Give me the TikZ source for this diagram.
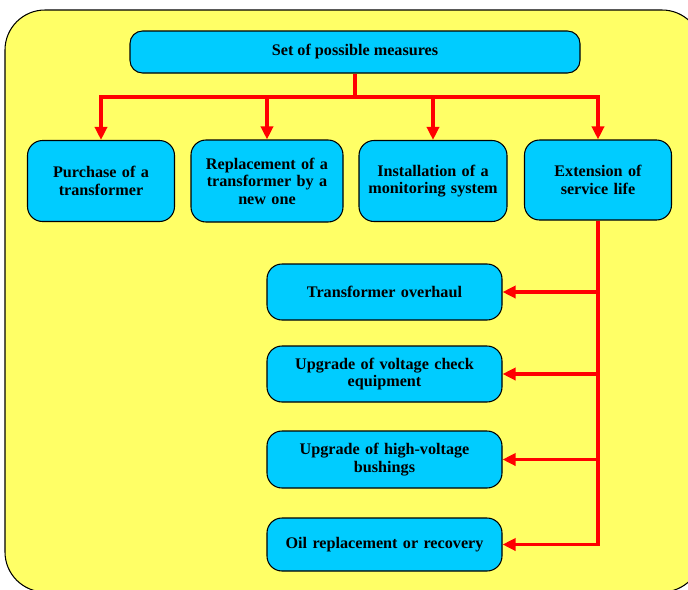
\documentclass[tikz,border=0pt]{standalone}
\usepackage{fontspec}
\setmainfont{Liberation Serif}
\usetikzlibrary{arrows.meta,calc}
\definecolor{panelyellow}{HTML}{FFFF66}
\definecolor{boxblue}{HTML}{00CCFF}
\definecolor{linkred}{HTML}{FF0000}
\tikzset{
    box/.style={draw, fill=boxblue, line width=0.6pt, rounded corners=0.3cm,
                inner sep=3pt, align=center,
                font=\bfseries\fontsize{9.2}{10}\selectfont},
    measure/.style={box, minimum width=2.94cm, minimum height=1.62cm, text width=2.7cm},
    action/.style={box, minimum width=4.7cm, minimum height=1.12cm, text width=4.4cm},
    link/.style={draw=linkred, line width=2.2pt},
    flow/.style={link, -{Triangle[length=0.26cm, width=0.24cm]}},
}
\begin{document}
\begin{tikzpicture}
    \path[use as bounding box] (0,0) rectangle (13.76,-11.8);
    \clip (0,0) rectangle (13.76,-11.8);
    \draw[fill=panelyellow, line width=0.6pt, rounded corners=0.8cm]
        (0.1,-0.2) rectangle (14.04,-11.84);

    \node[box, minimum width=9.0cm, minimum height=0.84cm, rounded corners=0.25cm] (set) at (7.1,-1.04) {Set of possible measures};

    \node[measure] (purchase) at (2.02,-3.62) {Purchase of a\\transformer};
    \node[measure, minimum width=3.04cm, minimum height=1.64cm] (replace) at (5.34,-3.62) {Replacement of a\\transformer by a\\new one};
    \node[measure, minimum width=2.96cm] (monitor) at (8.66,-3.62) {Installation of a\\monitoring system};
    \node[measure, minimum height=1.6cm] (extend) at (11.96,-3.6) {Extension of\\service life\\[0.5em]};

    \coordinate (bus) at (7.1,-1.94);
    \draw[link] (set.south) -- (bus);
    \draw[flow] (bus) -| (purchase.north);
    \draw[flow] (bus) -| (replace.north);
    \draw[flow] (bus) -| (monitor.north);
    \draw[flow] (bus) -| (extend.north);

    \node[action] (overhaul) at (7.69,-5.84) {Transformer overhaul};
    \node[action] (voltage) at (7.69,-7.48) {Upgrade of voltage check\\equipment};
    \node[action, minimum height=1.14cm] (bushing) at (7.69,-9.19) {Upgrade of high-voltage\\bushings};
    \node[action, minimum height=1.06cm] (oil) at (7.69,-10.89) {Oil replacement or recovery};

    \draw[flow] (extend.south) |- (overhaul.east);
    \draw[flow] (extend.south) |- (voltage.east);
    \draw[flow] (extend.south) |- (bushing.east);
    \draw[flow] (extend.south) |- (oil.east);

\end{tikzpicture}
\end{document}
